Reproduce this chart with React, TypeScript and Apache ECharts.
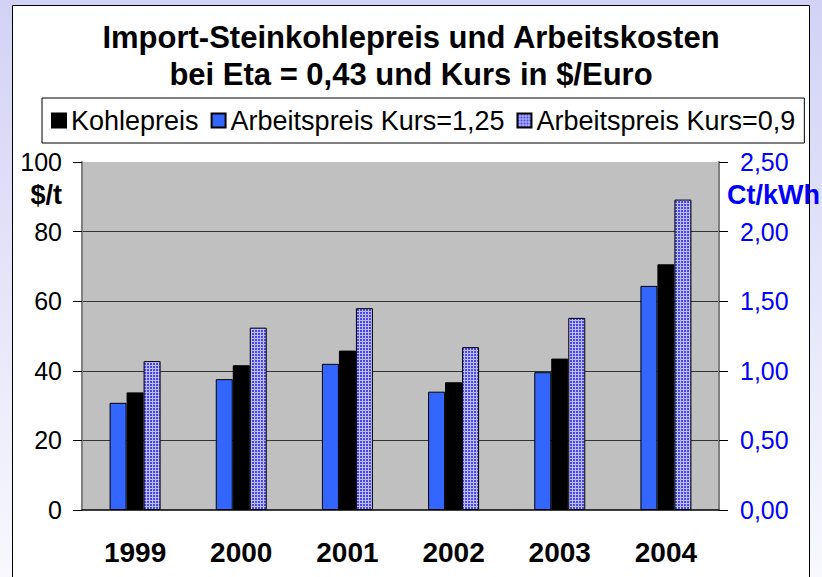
import React, { useEffect, useRef } from "react";
import * as echarts from "echarts";

const categories = ["1999", "2000", "2001", "2002", "2003", "2004"];
const kohlepreis = [33.8, 41.6, 45.8, 36.7, 43.5, 70.6];
const arbeit125 = [0.77, 0.94, 1.05, 0.85, 0.99, 1.61];
const arbeit09 = [1.07, 1.31, 1.45, 1.17, 1.38, 2.23];
const leftTicks = { min: 0, max: 100, interval: 20 };
const rightTicks = { min: 0, max: 2.5, interval: 0.5 };

const FONT = '"Liberation Sans", Arial, sans-serif';

function makePattern(): HTMLCanvasElement {
  const c = document.createElement("canvas");
  c.width = 3;
  c.height = 3;
  const ctx = c.getContext("2d")!;
  ctx.fillStyle = "#bcbcff";
  ctx.fillRect(0, 0, 3, 3);
  ctx.fillStyle = "#4848e6";
  ctx.fillRect(0, 0, 2, 2);
  return c;
}

export default function App() {
  const ref = useRef<HTMLDivElement>(null);
  useEffect(() => {
    if (!ref.current) return;
    const chart = echarts.init(ref.current, undefined, { renderer: "svg" });
    const pattern = { image: makePattern(), repeat: "repeat" };
    const border = { borderColor: "#000", borderWidth: 1 };
    chart.setOption({
      animation: false,
      textStyle: { fontFamily: FONT },
      title: {
        text: "Import-Steinkohlepreis und Arbeitskosten\nbei Eta = 0,43 und Kurs in $/Euro",
        left: "center",
        top: 19,
        padding: 0,
        textStyle: { fontSize: 31, fontWeight: "bold", lineHeight: 37, color: "#000", fontFamily: FONT },
      },
      legend: {
        data: ["Kohlepreis", "Arbeitspreis Kurs=1,25", "Arbeitspreis Kurs=0,9"],
        left: 42,
        top: 98,
        padding: [9, 9],
        itemGap: 12,
        itemWidth: 14,
        itemHeight: 14,
        icon: "rect",
        borderColor: "#000",
        borderWidth: 1,
        backgroundColor: "#fff",
        textStyle: { fontSize: 27, color: "#000", fontFamily: FONT },
      },
      graphic: [
        {
          type: "rect",
          z: -20,
          shape: { x: 0, y: 0, width: 822, height: 577 },
          style: {
            fill: new echarts.graphic.LinearGradient(0, 0, 0, 1, [
              { offset: 0, color: "#d2d2f6" },
              { offset: 1, color: "#f8f8fe" },
            ]),
          },
        },
        {
          type: "rect",
          z: -10,
          shape: { x: 12.5, y: 5.5, width: 797, height: 620 },
          style: { fill: "#fff", stroke: "#000", lineWidth: 1 },
        },
        {
          type: "text",
          z: 10,
          x: 62,
          y: 195,
          style: {
            text: "$/t",
            fontSize: 27,
            fontWeight: "bold",
            fontFamily: FONT,
            fill: "#000",
            align: "right",
            verticalAlign: "middle",
          },
        },
        {
          type: "text",
          z: 10,
          x: 727,
          y: 195,
          style: {
            text: "Ct/kWh",
            fontSize: 27,
            fontWeight: "bold",
            fontFamily: FONT,
            fill: "#0000ff",
            align: "left",
            verticalAlign: "middle",
          },
        },
      ],
      grid: {
        left: 82,
        right: 103,
        top: 162,
        bottom: 67,
        show: true,
        backgroundColor: "#c0c0c0",
        borderWidth: 0,
        outerBoundsMode: "none",
      },
      xAxis: {
        type: "category",
        data: categories,
        axisLine: { lineStyle: { color: "#000", width: 1.5 } },
        axisTick: { inside: true, length: 8, lineStyle: { color: "#000" } },
        axisLabel: { fontSize: 28, fontWeight: "bold", color: "#000", margin: 28, fontFamily: FONT },
        splitLine: { show: false },
      },
      yAxis: [
        {
          type: "value",
          position: "left",
          ...leftTicks,
          axisLine: { show: true, lineStyle: { color: "#808080", width: 2 } },
          axisTick: { show: true, length: 9, lineStyle: { color: "#000" } },
          axisLabel: { fontSize: 25, color: "#000", margin: 20, fontFamily: FONT },
          splitLine: {
            show: true,
            showMinLine: false,
            showMaxLine: false,
            lineStyle: { color: "#333", width: 1 },
          },
        },
        {
          type: "value",
          position: "right",
          ...rightTicks,
          axisLine: { show: true, lineStyle: { color: "#808080", width: 2 } },
          axisTick: { show: true, length: 9, lineStyle: { color: "#000" } },
          axisLabel: {
            fontSize: 25,
            color: "#0000ff",
            margin: 21,
            fontFamily: FONT,
            formatter: (v: number) => v.toFixed(2).replace(".", ","),
          },
          splitLine: { show: false },
        },
      ],
      series: [
        {
          name: "Arbeitspreis Kurs=1,25",
          type: "bar",
          yAxisIndex: 1,
          data: arbeit125,
          barWidth: 17,
          barGap: "0%",
          itemStyle: { color: "#3366ff", ...border },
        },
        {
          name: "Kohlepreis",
          type: "bar",
          yAxisIndex: 0,
          data: kohlepreis,
          barWidth: 17,
          barGap: "0%",
          itemStyle: { color: "#000", ...border },
        },
        {
          name: "Arbeitspreis Kurs=0,9",
          type: "bar",
          yAxisIndex: 1,
          data: arbeit09,
          barWidth: 17,
          barGap: "0%",
          itemStyle: { color: pattern, ...border },
        },
      ],
    });
    return () => chart.dispose();
  }, []);
  return (
    <div
      ref={ref}
      style={{ position: "absolute", left: 0, top: 0, width: 822, height: 577 }}
    />
  );
}
